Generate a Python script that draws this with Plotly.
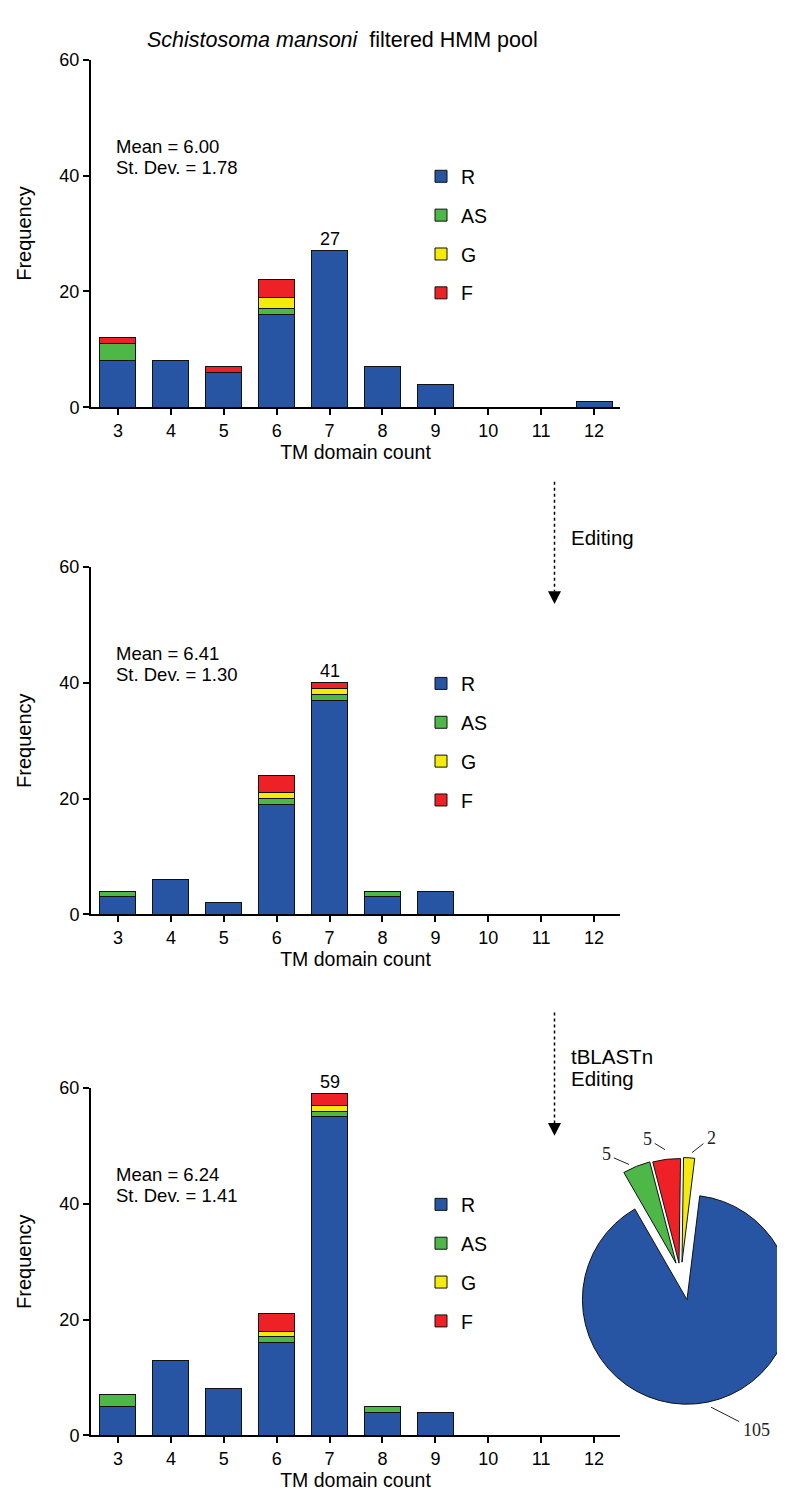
import plotly.graph_objects as go

W, H = 785, 1496

# ---------------- data ----------------
categories = [3, 4, 5, 6, 7, 8, 9, 10, 11, 12]
tick_vals_y = [0, 20, 40, 60]

# Panel 1: filtered HMM pool
p1_R = [8, 8, 6, 16, 27, 7, 4, 0, 0, 1]
p1_AS = [3, 0, 0, 1, 0, 0, 0, 0, 0, 0]
p1_G = [0, 0, 0, 2, 0, 0, 0, 0, 0, 0]
p1_F = [1, 0, 1, 3, 0, 0, 0, 0, 0, 0]

# Panel 2: after editing
p2_R = [3, 6, 2, 19, 37, 3, 4, 0, 0, 0]
p2_AS = [1, 0, 0, 1, 1, 1, 0, 0, 0, 0]
p2_G = [0, 0, 0, 1, 1, 0, 0, 0, 0, 0]
p2_F = [0, 0, 0, 3, 1, 0, 0, 0, 0, 0]

# Panel 3: after tBLASTn + editing
p3_R = [5, 13, 8, 16, 55, 4, 4, 0, 0, 0]
p3_AS = [2, 0, 0, 1, 1, 1, 0, 0, 0, 0]
p3_G = [0, 0, 0, 1, 1, 0, 0, 0, 0, 0]
p3_F = [0, 0, 0, 3, 2, 0, 0, 0, 0, 0]

peak_category = 7
peak_labels = ["27", "41", "59"]
means = ["6.00", "6.41", "6.24"]
stdevs = ["1.78", "1.30", "1.41"]

pie_labels = ["R", "AS", "F", "G"]
pie_values = [105, 5, 5, 2]

series_names = ["R", "AS", "G", "F"]
colors = {"R": "#2755A3", "AS": "#4DB848", "G": "#F4EB0C", "F": "#EE2226"}

panels = [
    {"R": p1_R, "AS": p1_AS, "G": p1_G, "F": p1_F},
    {"R": p2_R, "AS": p2_AS, "G": p2_G, "F": p2_F},
    {"R": p3_R, "AS": p3_AS, "G": p3_G, "F": p3_F},
]

# ---------------- layout helpers ----------------
def fx(px):
    return px / W


def fy(py):
    return 1 - py / H


FONT = "Liberation Sans, Arial, sans-serif"
# pixel position of y=0 and y=60 for each panel
panel_px = [(394.5, 42.5), (908.5, 556.5), (1436.5, 1084.5)]
x_left, x_right = 83, 612

fig = go.Figure()
layout_axes = {}
annotations = []

for i, (data, (y0, y60)) in enumerate(zip(panels, panel_px)):
    n = i + 1
    xa = "x" if n == 1 else f"x{n}"
    ya = "y" if n == 1 else f"y{n}"
    leg = "legend" if n == 1 else f"legend{n}"
    for s in series_names:
        fig.add_trace(go.Bar(
            x=categories, y=data[s], name=s,
            xaxis=xa, yaxis=ya, legend=leg, legendgroup=f"{s}{n}",
            marker=dict(color=colors[s], line=dict(color="#111111", width=1)),
            width=0.68, hoverinfo="skip",
        ))
    axis_common = dict(
        showline=True, linewidth=2, linecolor="black", ticks="outside",
        ticklen=6, tickwidth=2, tickcolor="black", showgrid=False,
        zeroline=False, fixedrange=True,
        tickfont=dict(family=FONT, size=18, color="black"),
    )
    layout_axes["xaxis" if n == 1 else f"xaxis{n}"] = dict(
        axis_common, domain=[fx(x_left), fx(x_right)], anchor=ya,
        range=[2.49, 12.49], tickmode="array", tickvals=categories,
        title=dict(text="TM domain count", font=dict(family=FONT, size=19.5, color="black"), standoff=4),
    )
    layout_axes["yaxis" if n == 1 else f"yaxis{n}"] = dict(
        axis_common, domain=[fy(y0), fy(y60)], anchor=xa,
        range=[0, 60], tickmode="array", tickvals=tick_vals_y,
        title=dict(text="Frequency", font=dict(family=FONT, size=20, color="black"), standoff=22),
    )
    layout_axes[leg] = dict(
        x=fx(413), y=fy(y0 - 253.5), xanchor="left", yanchor="top",
        font=dict(family=FONT, size=19.5, color="black"),
        bgcolor="rgba(0,0,0,0)", traceorder="grouped", tracegroupgap=10.5,
    )
    # peak label
    k = categories.index(peak_category)
    total = sum(data[s][k] for s in series_names)
    annotations.append(dict(
        x=peak_category, y=total, xref=xa, yref=ya, text=peak_labels[i],
        showarrow=False, yanchor="bottom", yshift=0,
        font=dict(family=FONT, size=18, color="black"),
    ))
    # stats text
    annotations.append(dict(
        x=fx(106), y=fy(y0 - 264.5), xref="paper", yref="paper",
        text=f"Mean = {means[i]}",
        showarrow=False, xanchor="left", yanchor="middle", align="left",
        font=dict(family=FONT, size=18.5, color="black"),
    ))
    annotations.append(dict(
        x=fx(106), y=fy(y0 - 242.8), xref="paper", yref="paper",
        text=f"St. Dev. = {stdevs[i]}",
        showarrow=False, xanchor="left", yanchor="middle", align="left",
        font=dict(family=FONT, size=18.5, color="black"),
    ))

# title
annotations.append(dict(
    x=fx(334), y=fy(22), xref="paper", yref="paper",
    text="<i>Schistosoma mansoni</i>  filtered HMM pool",
    showarrow=False, xanchor="center", yanchor="middle",
    font=dict(family=FONT, size=21.5, color="black"),
))

# arrow texts
for txt, ypx in [("Editing", 527), ("tBLASTn", 1053), ("Editing", 1075)]:
    annotations.append(dict(
        x=fx(561), y=fy(ypx), xref="paper", yref="paper", text=txt,
        showarrow=False, xanchor="left", yanchor="middle", align="left",
        font=dict(family=FONT, size=20.5, color="black"),
    ))

shapes = []
for (xa_, ytop, ybot) in [(546.5, 470, 581), (546.5, 1008, 1120)]:
    shapes.append(dict(type="line", xref="paper", yref="paper",
                       x0=fx(xa_), x1=fx(xa_), y0=fy(ytop), y1=fy(ybot),
                       line=dict(color="black", width=1.5, dash="dot")))
    shapes.append(dict(type="path", xref="paper", yref="paper",
                       path=f"M {fx(xa_-6.5)},{fy(ybot)} L {fx(xa_+6.5)},{fy(ybot)} L {fx(xa_)},{fy(ybot+13)} Z",
                       fillcolor="black", line=dict(color="black", width=0)))

# ---------------- pie ----------------
pie_colors = [colors[l] for l in pie_labels]
R_PIE = 106
pie_centers = {"R": (679, 1299), "AS": (668, 1262), "F": (671, 1262), "G": (674, 1261)}
for j, lab in enumerate(pie_labels):
    cx, cy = pie_centers[lab]
    cols = [pie_colors[m] if m == j else "rgba(0,0,0,0)" for m in range(len(pie_labels))]
    lws = [1 if m == j else 0 for m in range(len(pie_labels))]
    fig.add_trace(go.Pie(
        labels=pie_labels, values=pie_values, sort=False, direction="clockwise",
        rotation=7, textinfo="none", hoverinfo="skip", showlegend=False,
        marker=dict(colors=cols, line=dict(color="#111111", width=lws)),
        domain=dict(x=[fx(cx - R_PIE), min(1, fx(cx + R_PIE))],
                    y=[fy(cy + R_PIE), fy(cy - R_PIE)]),
    ))

# pie value labels with leader lines
pie_label_geom = {
    "AS": ((621, 1162), (-23, -10)),
    "F": ((657, 1147), (-18, -11)),
    "G": ((684, 1150), (19, -15)),
    "R": ((703, 1408), (45, 23)),
}
for lab, val in zip(pie_labels, pie_values):
    (hx, hy), (ax, ay) = pie_label_geom[lab]
    annotations.append(dict(
        x=fx(hx), y=fy(hy), xref="paper", yref="paper", text=str(val),
        showarrow=True, arrowhead=0, arrowwidth=1, arrowcolor="#222222",
        ax=ax, ay=ay, standoff=0, startstandoff=2,
        font=dict(family="Liberation Serif, DejaVu Serif, serif", size=18, color="#222222"),
    ))

fig.update_layout(
    width=W, height=H, margin=dict(l=0, r=0, t=0, b=0),
    paper_bgcolor="white", plot_bgcolor="white",
    barmode="stack", bargap=0.3,
    showlegend=True,
    annotations=annotations, shapes=shapes,
    font=dict(family=FONT, color="black"),
    **layout_axes,
)

fig.write_html("out.html")
